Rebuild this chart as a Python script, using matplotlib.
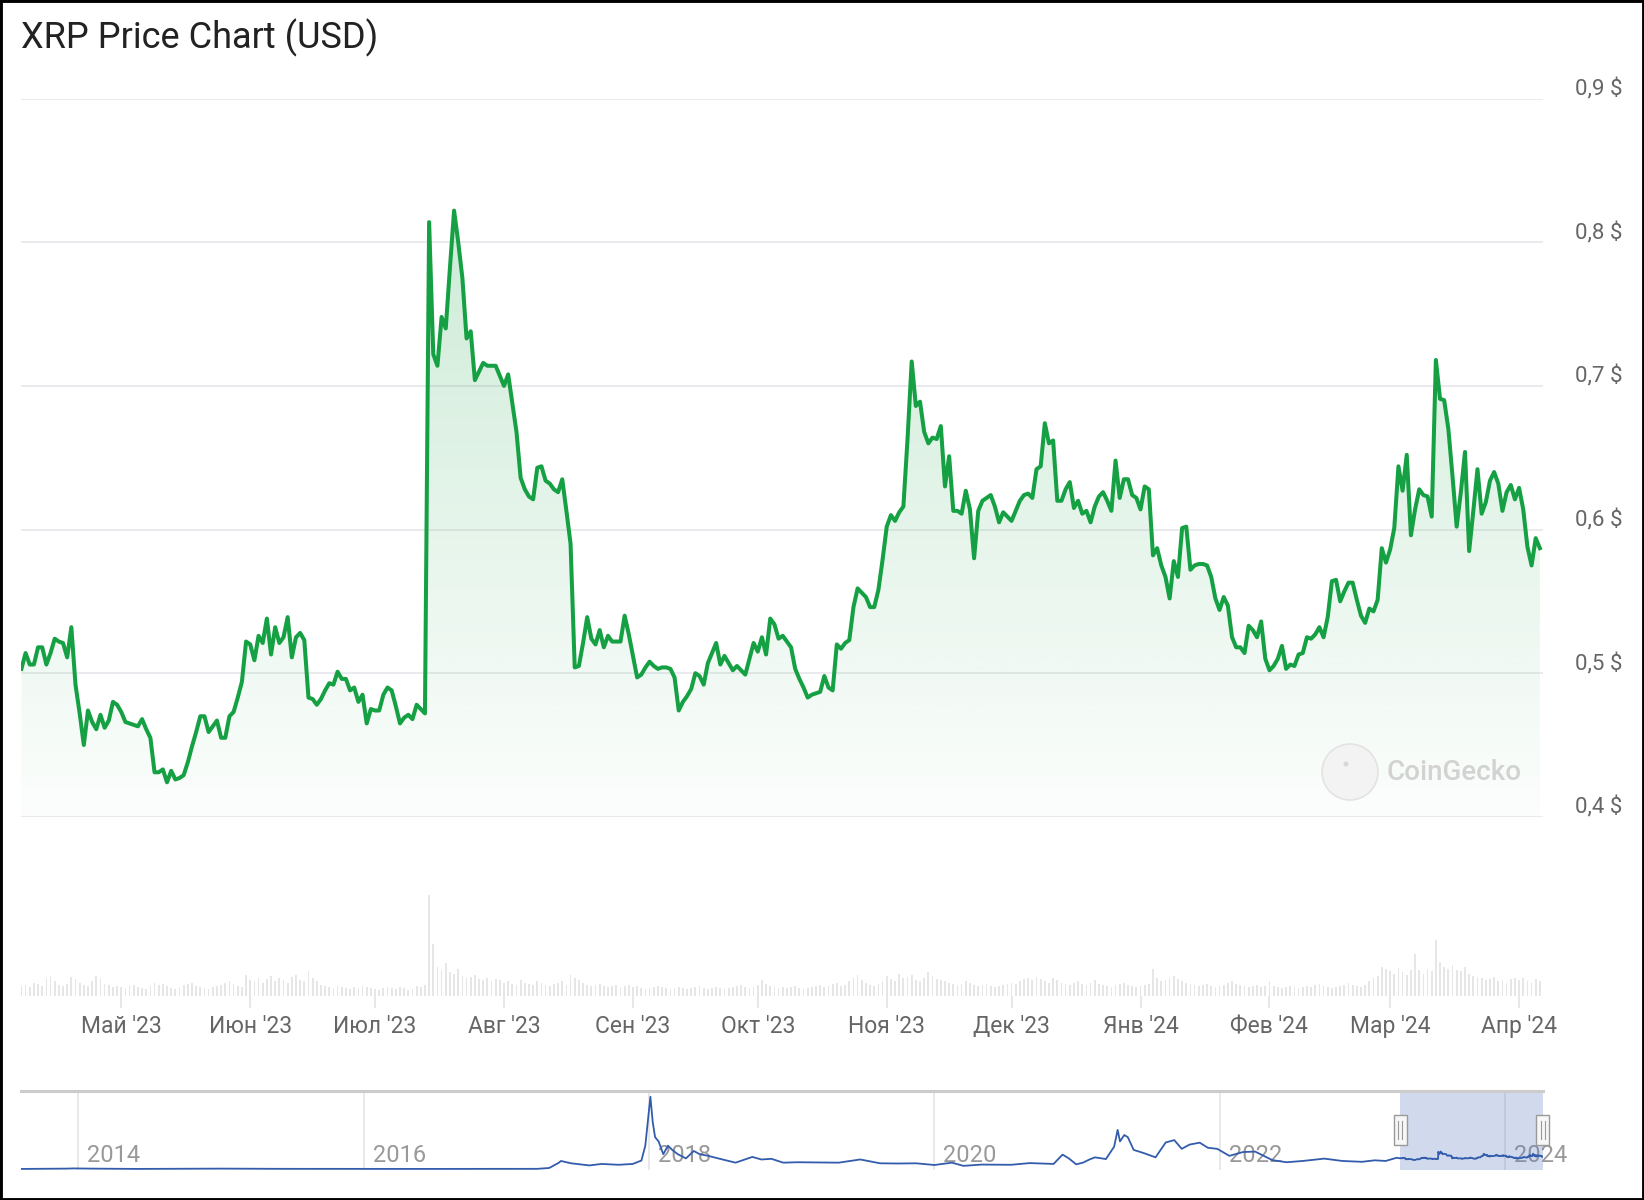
import numpy as np
import pandas as pd
import matplotlib
matplotlib.use('Agg')
import matplotlib.pyplot as plt
import matplotlib.dates as mdates
import matplotlib.transforms as mtransforms
from matplotlib.patches import Rectangle, Ellipse

plt.rcParams['font.family'] = ['Roboto', 'DejaVu Sans']

W, H = 1644, 1200

# ---- daily XRP price, USD ----
start_date = '2023-04-07'
price_apr23 = [0.503, 0.514, 0.506, 0.506, 0.518, 0.518, 0.506, 0.514, 0.524, 0.522, 0.521, 0.511,
               0.532, 0.492, 0.472, 0.450, 0.474, 0.466, 0.461, 0.471, 0.462, 0.467, 0.480, 0.478]
price_may23 = [0.473, 0.466, 0.465, 0.464, 0.463, 0.468, 0.461, 0.455, 0.431, 0.431, 0.433, 0.424,
               0.432, 0.426, 0.427, 0.429, 0.438, 0.449, 0.459, 0.470, 0.470, 0.459, 0.463, 0.467,
               0.455, 0.455, 0.470, 0.473, 0.483, 0.494, 0.522]
price_jun23 = [0.520, 0.509, 0.526, 0.521, 0.538, 0.513, 0.532, 0.521, 0.525, 0.539, 0.511, 0.525,
               0.528, 0.523, 0.483, 0.482, 0.478, 0.482, 0.488, 0.493, 0.492, 0.501, 0.496, 0.496,
               0.488, 0.490, 0.480, 0.485, 0.465, 0.475]
price_jul23 = [0.474, 0.474, 0.485, 0.490, 0.488, 0.477, 0.465, 0.469, 0.471, 0.468, 0.478, 0.475,
               0.472, 0.814, 0.722, 0.714, 0.748, 0.740, 0.782, 0.822, 0.800, 0.775, 0.733, 0.738,
               0.704, 0.710, 0.716, 0.714, 0.714, 0.714, 0.707]
price_aug23 = [0.700, 0.708, 0.688, 0.668, 0.636, 0.628, 0.623, 0.621, 0.643, 0.644, 0.634, 0.632,
               0.628, 0.626, 0.635, 0.613, 0.590, 0.504, 0.505, 0.521, 0.539, 0.524, 0.520, 0.530,
               0.518, 0.526, 0.522, 0.522, 0.522, 0.540, 0.527]
price_sep23 = [0.512, 0.497, 0.499, 0.504, 0.508, 0.505, 0.503, 0.504, 0.504, 0.503, 0.497, 0.474,
               0.480, 0.484, 0.489, 0.500, 0.498, 0.492, 0.507, 0.514, 0.521, 0.506, 0.512, 0.507,
               0.502, 0.505, 0.502, 0.499, 0.510, 0.521]
price_oct23 = [0.515, 0.525, 0.513, 0.538, 0.534, 0.524, 0.526, 0.522, 0.518, 0.503, 0.496, 0.490,
               0.483, 0.485, 0.486, 0.487, 0.498, 0.490, 0.488, 0.520, 0.517, 0.521, 0.523, 0.546,
               0.559, 0.556, 0.553, 0.546, 0.546, 0.558, 0.579]
price_nov23 = [0.602, 0.610, 0.606, 0.612, 0.616, 0.663, 0.717, 0.686, 0.689, 0.668, 0.660, 0.664,
               0.663, 0.672, 0.630, 0.651, 0.613, 0.613, 0.611, 0.627, 0.614, 0.580, 0.613, 0.620,
               0.622, 0.624, 0.616, 0.605, 0.612, 0.609]
price_dec23 = [0.606, 0.613, 0.620, 0.624, 0.625, 0.622, 0.642, 0.644, 0.674, 0.660, 0.662, 0.620,
               0.620, 0.628, 0.633, 0.615, 0.620, 0.611, 0.613, 0.605, 0.616, 0.623, 0.626, 0.620,
               0.613, 0.648, 0.622, 0.635, 0.635, 0.624, 0.622]
price_jan24 = [0.614, 0.630, 0.628, 0.582, 0.587, 0.575, 0.567, 0.552, 0.578, 0.567, 0.601, 0.602,
               0.572, 0.575, 0.576, 0.576, 0.575, 0.567, 0.552, 0.544, 0.553, 0.547, 0.525, 0.518,
               0.518, 0.514, 0.533, 0.530, 0.525, 0.536, 0.510]
price_feb24 = [0.502, 0.505, 0.510, 0.519, 0.503, 0.506, 0.505, 0.513, 0.514, 0.525, 0.524, 0.527,
               0.532, 0.525, 0.539, 0.564, 0.565, 0.550, 0.557, 0.563, 0.563, 0.551, 0.540, 0.535,
               0.545, 0.543, 0.551, 0.587, 0.577]
price_mar24 = [0.586, 0.601, 0.644, 0.627, 0.652, 0.596, 0.614, 0.628, 0.624, 0.623, 0.609, 0.718,
               0.691, 0.690, 0.670, 0.637, 0.602, 0.626, 0.654, 0.585, 0.613, 0.642, 0.611, 0.619,
               0.634, 0.640, 0.632, 0.613, 0.626, 0.631, 0.621]
price_apr24 = [0.629, 0.614, 0.588, 0.575, 0.594, 0.587]

# ---- daily volume, billion USD (estimated from the grey bars) ----
vol_apr23 = [0.9, 1.0, 0.8, 1.2, 1.1, 0.9, 1.6, 1.8, 1.3, 1.0, 0.9, 1.1, 1.7, 1.5, 1.2, 1.0, 0.9, 1.3,
             1.8, 1.6, 1.1, 1.0, 0.8, 0.9]
vol_may23 = [0.8, 0.7, 0.9, 1.0, 0.8, 0.7, 0.6, 0.9, 1.2, 1.0, 1.1, 0.9, 0.7, 0.6, 0.8, 1.0, 1.1, 1.2,
             0.9, 0.8, 0.7, 0.6, 0.8, 0.9, 1.0, 1.2, 1.3, 1.1, 0.9, 0.8, 1.9]
vol_jun23 = [1.4, 1.3, 1.6, 1.2, 1.5, 1.8, 1.3, 1.6, 1.4, 1.2, 1.7, 1.9, 1.4, 1.3, 2.2, 1.6, 1.3, 1.0,
             0.9, 0.8, 0.7, 0.9, 0.8, 0.7, 0.6, 0.8, 0.7, 0.9, 0.8, 0.7]
vol_jul23 = [0.6, 0.5, 0.7, 0.8, 0.7, 0.6, 0.8, 0.7, 0.5, 0.6, 0.9, 0.8, 1.0, 9.0, 4.6, 2.6, 2.3, 2.9,
             2.1, 2.0, 2.4, 1.8, 1.6, 1.7, 1.9, 1.5, 1.4, 1.6, 1.3, 1.5, 1.4]
vol_aug23 = [1.2, 1.3, 1.1, 1.0, 1.4, 1.2, 1.1, 1.0, 1.3, 1.2, 1.0, 0.9, 1.1, 1.2, 1.3, 1.0, 1.9, 1.6,
             1.4, 1.2, 1.0, 0.9, 1.0, 1.1, 0.9, 0.8, 0.9, 1.0, 0.8, 0.9, 1.0]
vol_sep23 = [0.8, 0.9, 0.7, 0.6, 0.7, 0.8, 0.9, 0.8, 0.7, 0.6, 0.7, 0.8, 0.7, 0.6, 0.7, 0.8, 0.9, 0.7,
             0.6, 0.7, 0.8, 0.7, 0.6, 0.7, 0.8, 0.9, 1.0, 0.8, 0.7, 0.8]
vol_oct23 = [1.0, 1.4, 1.1, 0.9, 0.8, 0.7, 0.8, 0.7, 0.8, 0.9, 0.7, 0.6, 0.7, 0.8, 0.9, 1.0, 0.8, 0.9,
             1.1, 1.2, 0.9, 1.0, 1.3, 1.6, 1.9, 1.4, 1.2, 1.0, 0.9, 1.1, 1.3]
vol_nov23 = [1.8, 1.5, 1.3, 2.0, 1.6, 1.7, 1.9, 1.4, 1.3, 1.6, 2.1, 1.8, 1.5, 1.4, 1.3, 1.2, 1.1, 1.0,
             1.1, 1.3, 1.2, 1.0, 0.9, 1.0, 1.1, 0.9, 0.8, 0.9, 1.0, 1.1]
vol_dec23 = [1.2, 1.1, 1.3, 1.5, 1.6, 1.4, 1.7, 1.5, 1.3, 1.2, 1.6, 1.4, 1.2, 1.1, 1.0, 1.2, 1.3, 1.1,
             1.0, 1.2, 1.4, 1.1, 1.0, 0.9, 0.8, 1.0, 1.1, 1.2, 1.0, 0.9, 0.8]
vol_jan24 = [0.9, 1.0, 1.1, 2.4, 1.6, 1.3, 1.4, 1.6, 1.8, 1.5, 1.3, 1.2, 1.1, 1.0, 0.9, 1.0, 1.1, 0.9,
             0.8, 0.9, 1.0, 1.2, 1.3, 1.1, 1.0, 0.9, 0.8, 0.9, 1.0, 0.8, 0.9]
vol_feb24 = [1.3, 0.9, 0.8, 0.7, 0.8, 0.9, 0.8, 0.7, 0.8, 0.9, 0.8, 1.0, 1.1, 0.9, 0.8, 0.7, 0.8, 0.9,
             1.0, 1.2, 1.0, 0.9, 0.8, 1.0, 1.3, 1.6, 1.8, 2.6, 2.4]
vol_mar24 = [2.2, 2.0, 2.5, 2.1, 1.9, 2.3, 3.7, 2.3, 2.0, 2.4, 2.2, 5.0, 3.0, 2.6, 2.4, 2.8, 2.3, 2.2,
             2.6, 2.0, 1.8, 1.7, 1.6, 1.4, 1.5, 1.7, 1.3, 1.4, 1.2, 1.5, 1.6]
vol_apr24 = [1.4, 1.6, 1.3, 1.2, 1.5, 1.3]

# ---- long history for the navigator ----
hist_dates = ['2013-08-07', '2013-12-01', '2013-12-20', '2014-02-01', '2014-06-01', '2015-01-01',
              '2015-06-01', '2016-01-01', '2016-06-01', '2017-01-01', '2017-03-20', '2017-04-20',
              '2017-05-15', '2017-05-20', '2017-06-15', '2017-08-01', '2017-09-01', '2017-10-15',
              '2017-11-20', '2017-12-12', '2017-12-22', '2018-01-04', '2018-01-10', '2018-01-16',
              '2018-01-25', '2018-02-06', '2018-02-18', '2018-03-01', '2018-03-15', '2018-04-05',
              '2018-04-25', '2018-05-10', '2018-06-01', '2018-07-01', '2018-08-10', '2018-09-22',
              '2018-10-15', '2018-11-10', '2018-12-10', '2019-01-15', '2019-03-01', '2019-05-01',
              '2019-06-25', '2019-08-15', '2019-10-01', '2019-11-15', '2020-01-01', '2020-02-15',
              '2020-03-15', '2020-05-01', '2020-07-15', '2020-09-01', '2020-11-01', '2020-11-24',
              '2020-12-10', '2020-12-29', '2021-01-15', '2021-02-01', '2021-02-15', '2021-03-15',
              '2021-04-05', '2021-04-14', '2021-04-20', '2021-05-01', '2021-05-10', '2021-05-25',
              '2021-06-20', '2021-07-20', '2021-08-15', '2021-09-06', '2021-09-25', '2021-10-15',
              '2021-11-10', '2021-12-01', '2021-12-25', '2022-01-25', '2022-03-01', '2022-04-01',
              '2022-05-15', '2022-06-20', '2022-08-01', '2022-09-25', '2022-11-10', '2022-12-30',
              '2023-02-01', '2023-03-01', '2023-03-29']
hist_prices = [0.005, 0.02, 0.03, 0.02, 0.006, 0.02,
               0.01, 0.006, 0.006, 0.006, 0.01, 0.05,
               0.30, 0.38, 0.27, 0.17, 0.24, 0.20,
               0.24, 0.40, 1.10, 3.40, 2.20, 1.50,
               1.30, 0.70, 1.10, 0.90, 0.70, 0.50,
               0.85, 0.70, 0.62, 0.48, 0.30, 0.57,
               0.45, 0.48, 0.30, 0.32, 0.31, 0.30,
               0.45, 0.27, 0.26, 0.27, 0.19, 0.30,
               0.15, 0.21, 0.20, 0.28, 0.24, 0.68,
               0.50, 0.22, 0.30, 0.45, 0.55, 0.47,
               1.05, 1.84, 1.30, 1.60, 1.50, 0.90,
               0.75, 0.55, 1.25, 1.36, 0.95, 1.15,
               1.24, 1.00, 0.95, 0.62, 0.80, 0.82,
               0.42, 0.32, 0.38, 0.49, 0.38, 0.34,
               0.41, 0.38, 0.53]

month_labels = ["Май '23", "Июн '23", "Июл '23", "Авг '23", "Сен '23", "Окт '23",
                "Ноя '23", "Дек '23", "Янв '24", "Фев '24", "Мар '24", "Апр '24"]
y_ticks = [0.4, 0.5, 0.6, 0.7, 0.8, 0.9]
year_ticks = [2014, 2016, 2018, 2020, 2022, 2024]

prices = (price_apr23 + price_may23 + price_jun23 + price_jul23 + price_aug23 + price_sep23 +
          price_oct23 + price_nov23 + price_dec23 + price_jan24 + price_feb24 + price_mar24 + price_apr24)
volumes = (vol_apr23 + vol_may23 + vol_jun23 + vol_jul23 + vol_aug23 + vol_sep23 + vol_oct23 +
           vol_nov23 + vol_dec23 + vol_jan24 + vol_feb24 + vol_mar24 + vol_apr24)
dates = pd.date_range(start_date, periods=len(prices), freq='D')
x = mdates.date2num(dates)
y = np.array(prices)

GREEN = '#16a044'
GRID = '#e9e9ee'
LABEL = '#666666'


def box(left, top, right, bottom):
    # pixel box -> figure fraction
    return [left / W, 1 - bottom / H, (right - left) / W, (bottom - top) / H]


fig = plt.figure(figsize=(W / 100, H / 100), dpi=100)
fig.patch.set_facecolor('white')

# ---------------- main price panel ----------------
ax = fig.add_axes(box(21, 98.6, 1543, 816.8))
x0, x1 = x[0] - 0.1, x[-1] + 0.75
ax.set_xlim(x0, x1)
ax.set_ylim(0.4, 0.9)
ax.axis('off')
for v in y_ticks:
    ax.axhline(v, color=GRID, lw=1.3, zorder=0)

poly = ax.fill_between(x, y, 0.4, facecolor='none', edgecolor='none')
grad = np.zeros((256, 1, 4))
grad[:, 0, :3] = matplotlib.colors.to_rgb(GREEN)
grad[:, 0, 3] = np.linspace(0.015, 0.25, 256)
im = ax.imshow(grad, extent=[x0, x1, 0.4, 0.9], origin='lower', aspect='auto', zorder=1)
im.set_clip_path(poly.get_paths()[0], transform=ax.transData)
ax.plot(x, y, color=GREEN, lw=2.9, solid_joinstyle='round', zorder=3)
ax.set_xlim(x0, x1)
ax.set_ylim(0.4, 0.9)

lab_tr = mtransforms.blended_transform_factory(ax.transAxes, ax.transData) + \
    mtransforms.ScaledTranslation(0, 3 / 100, fig.dpi_scale_trans)
for v in y_ticks:
    ax.text(1 + 32 / 1522, v, f'{v:.1f} $'.replace('.', ','), transform=lab_tr,
            ha='left', va='baseline', fontsize=16, color=LABEL, clip_on=False)

# watermark
fig.patches.append(Ellipse((1350 / W, 1 - 772 / H), 56 / W, 56 / H, transform=fig.transFigure,
                           facecolor='#f2f3f2', edgecolor='#e3e3e3', lw=1.2, zorder=2))
fig.patches.append(Ellipse((1346 / W, 1 - 764 / H), 5 / W, 5 / H, transform=fig.transFigure,
                           facecolor='#d8d8d8', edgecolor='none', zorder=3))
fig.text(1387 / W, 1 - 772 / H, 'CoinGecko', fontsize=20, color='#d2d2d2',
         fontweight='medium', ha='left', va='center')

fig.text(21 / W, 1 - 48 / H, 'XRP Price Chart (USD)', fontsize=26, color='#222222',
         ha='left', va='baseline')

# ---------------- volume panel ----------------
axv = fig.add_axes(box(21, 830, 1543, 996))
axv.bar(x, volumes, width=0.42, color='#e6e6e6', zorder=1)
axv.set_xlim(x0, x1)
axv.set_ylim(0, max(volumes) * 166 / 101)
axv.axis('off')
month_x = mdates.date2num(pd.date_range('2023-05-01', periods=len(month_labels), freq='MS'))
tick_tr = mtransforms.blended_transform_factory(axv.transData, axv.transAxes)
axv.vlines(month_x, -12 / 166, 0, transform=tick_tr, color='#e3e3e3', lw=1.2, clip_on=False)
for mx, lab in zip(month_x, month_labels):
    axv.text(mx, -(1033 - 996) / 166, lab, transform=tick_tr, ha='center', va='baseline',
             fontsize=16.5, color=LABEL, clip_on=False)

# ---------------- navigator ----------------
axn = fig.add_axes(box(21, 1091, 1543, 1170))
nx = np.concatenate([mdates.date2num(pd.to_datetime(hist_dates)), x])
ny = np.concatenate([hist_prices, y])
n0 = mdates.date2num(pd.Timestamp('2013-08-07'))
axn.set_xlim(n0, x1)
axn.set_ylim(-0.045, 3.67)
axn.axis('off')
yr_x = mdates.date2num(pd.to_datetime([f'{yy}-01-01' for yy in year_ticks]))
for xx, yy in zip(yr_x, year_ticks):
    axn.axvline(xx, color='#e4e4e4', lw=1.2, zorder=0)
    axn.text(xx, 8 / 79, f' {yy}', transform=mtransforms.blended_transform_factory(
        axn.transData, axn.transAxes) + mtransforms.ScaledTranslation(3 / 100, 0, fig.dpi_scale_trans),
        ha='left', va='baseline', fontsize=17, color='#999999', zorder=1)
axn.plot(nx, ny, color='#335cad', lw=1.3, zorder=3)
axn.axvspan(x[0], x1, color=(102 / 255, 133 / 255, 194 / 255), alpha=0.3, lw=0, zorder=2)
axn.axhline(3.67, color='#cccccc', lw=2.2, zorder=4, clip_on=False)

hd_tr = mtransforms.blended_transform_factory(axn.transData, axn.transAxes)
px_day = 1522 / (x1 - n0)
for hx in [x[0], x1 - 1.0]:
    hw = 13 / px_day
    axn.add_patch(Rectangle((hx - hw / 2, (1170 - 1145) / 79), hw, 30 / 79, transform=hd_tr,
                            facecolor='#f7f7f7', edgecolor='#999999', lw=1, zorder=5, clip_on=False))
    for dx in (-2, 2):
        axn.plot([hx + dx / px_day, hx + dx / px_day], [(1170 - 1139) / 79, (1170 - 1121) / 79],
                 transform=hd_tr, color='#999999', lw=0.8, zorder=6, clip_on=False)

# screenshot frame
fig.patches.append(Rectangle((0, 0), 1, 1, transform=fig.transFigure, fill=False,
                             edgecolor='black', lw=3.5, zorder=10))

fig.savefig('out.png', dpi=100, facecolor='white')
